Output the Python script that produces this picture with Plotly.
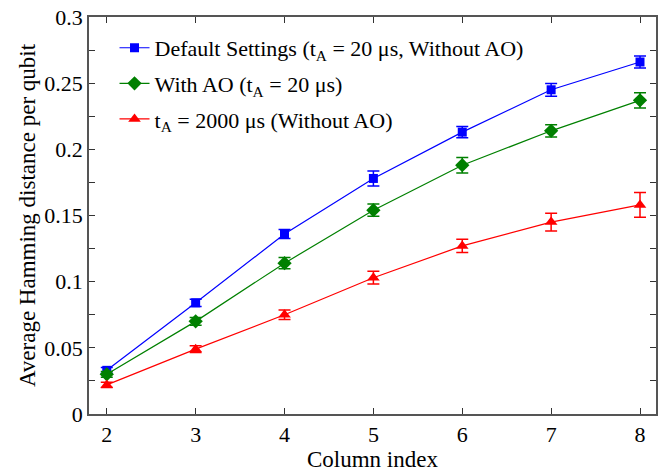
import plotly.graph_objects as go

# Column index on the horizontal axis
columns = [2, 3, 4, 5, 6, 7, 8]

# Average Hamming distance per qubit for each setting, with error half-widths
default_vals = [0.033, 0.084, 0.136, 0.178, 0.213, 0.245, 0.266]
default_err = [0.0022, 0.0028, 0.0034, 0.0057, 0.0043, 0.0048, 0.0046]

with_ao_vals = [0.030, 0.070, 0.114, 0.154, 0.188, 0.214, 0.237]
with_ao_err = [0.0022, 0.0029, 0.0043, 0.0046, 0.0059, 0.0046, 0.0058]

long_ta_vals = [0.022, 0.049, 0.075, 0.103, 0.127, 0.145, 0.158]
long_ta_err = [0.0020, 0.0025, 0.0036, 0.0048, 0.0050, 0.0067, 0.0094]

series = [
    ("Default Settings (t<sub>A</sub> = 20 \u03bcs, Without AO)", default_vals, default_err,
     "#0000ff", "square", 9),
    ("With AO (t<sub>A</sub> = 20 \u03bcs)", with_ao_vals, with_ao_err,
     "#008000", "diamond", 11),
    ("t<sub>A</sub> = 2000 \u03bcs (Without AO)", long_ta_vals, long_ta_err,
     "#ff0000", "triangle-up", 11),
]

fig = go.Figure()
for i, (name, vals, err, color, symbol, size) in enumerate(series):
    fig.add_trace(go.Scatter(
        x=columns, y=vals, name=name, mode="lines+markers",
        legendgroup=f"g{i}",
        line=dict(color=color, width=1.2),
        marker=dict(color=color, symbol=symbol, size=size),
        error_y=dict(type="data", array=err, visible=True, color=color,
                     thickness=1.5, width=6),
    ))

serif = "Liberation Serif"
axis_font = dict(family=serif, size=22, color="black")

fig.update_layout(
    width=658, height=476,
    margin=dict(l=89, r=0, t=17, b=62),
    plot_bgcolor="white", paper_bgcolor="white",
    font=axis_font,
    showlegend=True,
    legend=dict(
        x=0.045, y=0.975, xanchor="left", yanchor="top",
        bgcolor="rgba(0,0,0,0)", borderwidth=0,
        font=dict(family=serif, size=22, color="black"),
        itemwidth=30, tracegroupgap=4,
    ),
    xaxis=dict(
        range=[1.8, 8.18], tickmode="array", tickvals=columns,
        ticks="inside", ticklen=6, tickcolor="#333", tickwidth=1,
        showline=True, linecolor="#555", linewidth=1.5, mirror="ticks",
        showgrid=False, zeroline=False,
        title=dict(text="Column index", standoff=4, font=dict(family=serif, size=23, color="black")),
        tickfont=axis_font,
    ),
    yaxis=dict(
        range=[0, 0.3], dtick=0.05, tickformat="~g",
        ticks="inside", ticklen=6, tickcolor="#333", tickwidth=1,
        minor=dict(dtick=0.025, ticks="inside", ticklen=6, tickcolor="#333"),
        showline=True, linecolor="#555", linewidth=1.5, mirror="ticks",
        showgrid=False, zeroline=False,
        title=dict(text="Average Hamming distance per qubit", standoff=2,
                   font=dict(family=serif, size=23, color="black")),
        tickfont=axis_font,
    ),
)

fig.write_html("out.html")
